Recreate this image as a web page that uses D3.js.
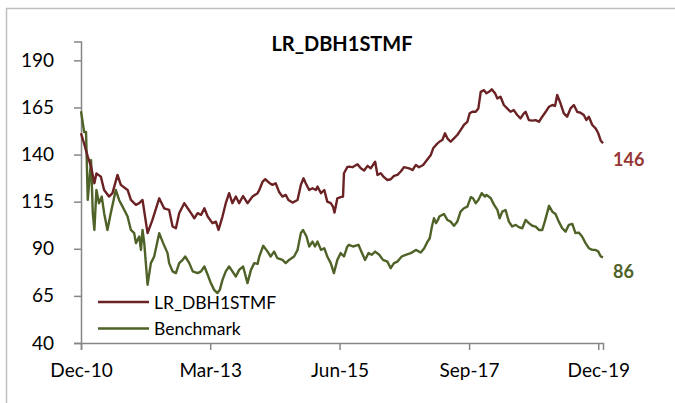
<!DOCTYPE html>
<html>
<head>
<meta charset="utf-8">
<script src="https://cdn.jsdelivr.net/npm/d3@7"></script>
<style>
  body { margin: 0; background: #fff; }
  svg text { font-family: Lato, "Open Sans", sans-serif; }
</style>
</head>
<body>
<div id="chart"></div>
<script>
// series
const fundDates = [
  '2010-12-01','2010-12-20','2011-01-13','2011-02-03','2011-02-24','2011-03-09','2011-04-06','2011-04-27',
  '2011-05-28','2011-06-19','2011-07-21','2011-08-11','2011-09-23','2011-10-14','2011-11-15','2011-12-06',
  '2011-12-27','2012-01-28','2012-02-28','2012-04-11','2012-05-12','2012-06-13','2012-07-05','2012-07-26',
  '2012-08-16','2012-09-17','2012-10-09','2012-10-30','2012-11-20','2012-12-11','2013-01-02','2013-01-23',
  '2013-02-13','2013-03-15','2013-04-06','2013-04-23','2013-05-18','2013-06-08','2013-06-29','2013-07-20',
  '2013-08-11','2013-09-01','2013-09-26','2013-10-24','2013-11-25','2013-12-27','2014-01-07','2014-01-28',
  '2014-02-14','2014-03-10','2014-04-01','2014-04-21','2014-05-12','2014-06-03','2014-06-24','2014-07-11',
  '2014-08-06','2014-09-07','2014-09-28','2014-10-15','2014-10-29','2014-11-20','2014-12-11','2015-01-02',
  '2015-01-12','2015-02-03','2015-02-24','2015-03-15','2015-04-06','2015-04-20','2015-04-30','2015-05-18',
  '2015-06-08','2015-06-23','2015-06-29','2015-07-20','2015-07-31','2015-08-22','2015-09-23','2015-10-14',
  '2015-11-04','2015-11-26','2015-12-16','2016-01-13','2016-01-28','2016-02-18','2016-03-09','2016-03-31',
  '2016-04-21','2016-05-12','2016-06-03','2016-06-24','2016-07-14','2016-08-16','2016-09-07','2016-09-28',
  '2016-10-18','2016-11-13','2016-12-11','2017-01-01','2017-01-16','2017-02-03','2017-02-24','2017-03-15',
  '2017-04-01','2017-04-16','2017-05-07','2017-05-28','2017-06-18','2017-07-09','2017-07-30','2017-08-21',
  '2017-09-05','2017-09-22','2017-10-13','2017-10-30','2017-11-14','2017-12-05','2017-12-20','2018-01-06',
  '2018-01-23','2018-02-13','2018-02-28','2018-03-20','2018-04-10','2018-05-01','2018-05-22','2018-06-12',
  '2018-07-04','2018-07-25','2018-08-15','2018-08-26','2018-09-16','2018-10-08','2018-10-29','2018-11-19',
  '2018-12-10','2019-01-01','2019-01-22','2019-02-12','2019-03-01','2019-03-15','2019-04-05','2019-04-26',
  '2019-05-17','2019-06-08','2019-06-29','2019-07-20','2019-08-10','2019-08-31','2019-09-16','2019-10-02',
  '2019-10-24','2019-11-14','2019-12-01','2019-12-16','2019-12-31'
]
const fundValues = [
  151.3,146,138.9,133.6,124.8,130,128.3,121.2,
  117.7,119.5,129.2,123.9,121.2,115.9,113.3,114.2,
  115.9,98.3,105.3,116.8,111.5,110.6,101.8,100.9,
  108.9,114.2,111.5,108.9,106.2,108.9,108,111.5,
  107.1,103.6,104.4,100,107.1,114.2,119.5,114.2,
  117.7,114.2,118,114.2,117.7,119.5,121.2,125.6,
  126.9,125.1,123.9,124.8,120.3,117.7,118.6,115.9,
  114.5,115.9,123.9,127.4,124.8,121.2,122.1,121.2,
  123,119.5,121.2,115,114.2,112.4,109.2,116.8,
  117.4,117.7,130.1,133.3,133.6,133.3,134.9,132.7,
  131.5,134,132.7,136.2,129.2,130.1,128,126.5,
  126.9,128.7,129.2,131,133.3,132.7,131.8,134.5,
  133.3,134.5,137.5,139.8,143.3,145.1,146.8,147.7,
  151.3,148.6,146.8,148.6,150.4,153,155.7,157.4,
  161.9,162.7,162.7,164.5,173.3,174.2,172.5,173.3,
  174.6,172.5,169.8,170.7,166.3,164.5,162.7,163.6,
  161,159.2,161.9,162.7,158.3,158,158.3,157.4,
  160.1,162.7,165.4,166.3,165.8,171.6,167.2,161.9,
  160.1,164.5,166.3,162.7,162.2,161,158.3,160.1,
  155.7,153.9,151.3,147.5,146
]

const benchDates = [
  '2010-12-01','2010-12-21','2011-01-02','2011-01-13','2011-02-03','2011-02-14','2011-02-24','2011-03-09',
  '2011-03-25','2011-04-12','2011-04-27','2011-05-18','2011-06-08','2011-07-10','2011-07-31','2011-08-22',
  '2011-09-23','2011-10-14','2011-11-04','2011-11-15','2011-12-06','2011-12-17','2011-12-27','2012-01-07',
  '2012-01-28','2012-02-18','2012-03-10','2012-04-11','2012-05-06','2012-06-03','2012-06-13','2012-07-05',
  '2012-07-26','2012-08-16','2012-09-07','2012-09-23','2012-10-19','2012-11-10','2012-12-11','2013-01-02',
  '2013-01-23','2013-02-13','2013-03-05','2013-03-26','2013-04-16','2013-05-01','2013-05-18','2013-06-08',
  '2013-06-29','2013-07-20','2013-08-11','2013-09-01','2013-09-26','2013-10-24','2013-11-15','2013-12-06',
  '2013-12-27','2014-01-07','2014-02-01','2014-03-01','2014-03-20','2014-04-11','2014-05-02','2014-06-03',
  '2014-06-24','2014-07-15','2014-08-16','2014-09-07','2014-09-28','2014-10-12','2014-11-03','2014-11-20',
  '2014-12-11','2014-12-27','2015-01-12','2015-02-03','2015-02-24','2015-03-15','2015-04-06','2015-04-26',
  '2015-05-18','2015-06-08','2015-06-29','2015-07-20','2015-07-31','2015-08-25','2015-09-29','2015-10-20',
  '2015-11-10','2015-12-02','2015-12-22','2016-01-13','2016-02-08','2016-03-03','2016-03-31','2016-04-21',
  '2016-05-12','2016-06-03','2016-06-30','2016-07-25','2016-08-27','2016-09-28','2016-10-29','2016-11-20',
  '2016-12-11','2016-12-25','2017-01-08','2017-01-21','2017-02-03','2017-02-15','2017-02-24','2017-03-25',
  '2017-04-16','2017-05-07','2017-05-28','2017-06-18','2017-07-09','2017-07-30','2017-08-21','2017-09-12',
  '2017-09-26','2017-10-13','2017-10-30','2017-11-20','2017-12-11','2017-12-21','2018-01-17','2018-02-07',
  '2018-02-28','2018-03-14','2018-03-31','2018-04-21','2018-05-12','2018-06-02','2018-06-24','2018-07-14',
  '2018-08-05','2018-08-26','2018-09-16','2018-10-08','2018-10-29','2018-11-19','2018-12-10','2018-12-26',
  '2019-01-22','2019-02-12','2019-03-04','2019-03-25','2019-04-16','2019-05-07','2019-05-28','2019-06-19',
  '2019-07-09','2019-07-30','2019-08-20','2019-09-11','2019-10-02','2019-10-24','2019-11-14','2019-12-01',
  '2019-12-16','2019-12-31'
]
const benchValues = [
  163,152,152,116,137,108.9,100,121.2,
  114.2,117.7,108.9,100,108.9,121.2,115.9,112.4,
  107.1,100,98.3,93,96.5,89.4,100,93,
  70.9,82.4,85.9,98.3,93,87.7,82.4,78,
  77.1,82.4,84.1,85.9,82.4,78,77.1,78,
  80.6,76.2,71.8,68.2,66.5,68.2,73.5,78,
  80.6,78,75.3,78.8,80.6,71.8,78.8,82.4,
  82,85.9,91.6,88.5,85.9,88.5,85,84.1,
  82.4,84.1,85.9,89.4,98.3,100,96.5,91.2,
  93.8,91.2,93.8,89.4,90.3,85.9,82.4,77.1,
  84.1,87.7,85.9,91.2,92.1,91.2,92.1,88,
  84.1,87.7,86.8,88.5,86.8,84.1,83.2,79.7,
  82.4,83.2,85.9,86.8,87.7,89.4,88,90.3,
  93.8,95.6,101.8,106.2,103.6,105.3,107.1,108.5,
  105.3,104.4,102.2,104.4,109.7,111.5,112.4,117.4,
  116.8,114.2,115.9,119.5,117.7,118.6,116.8,113.3,
  110.6,106.2,109.7,110.6,104.4,101.8,102.7,101.5,
  100.9,105.3,103.6,102.2,101.8,100,100,104.4,
  112.8,109.7,108.5,104.4,100.9,99.1,102.7,103.2,
  98.3,98.6,96.5,93,90.3,89.4,89.4,88.5,
  86,85.5
]

const seriesNames = ['LR_DBH1STMF', 'Benchmark']
const endLabels = ['146', '86']
const yTicks = [40, 65, 90, 115, 140, 165, 190]
const xTicks = ['2010-12-01', '2013-03-01', '2015-06-01', '2017-09-01', '2019-12-01']

const width = 675
const height = 403
const lineColors = ['#6B2224', '#4F6228']
const labelColors = ['#953735', '#4F6228']
const axisColor = '#868686'

const parse = d3.timeParse('%Y-%m-%d')

const series = [
  fundDates.map((d, i) => ({ date: parse(d), value: fundValues[i] })),
  benchDates.map((d, i) => ({ date: parse(d), value: benchValues[i] }))
]

const svg = d3.select('#chart').append('svg')
  .attr('width', width)
  .attr('height', height)

// outer chart frame, cut off at right and bottom
svg.append('rect')
  .attr('x', 6.5)
  .attr('y', 8.5)
  .attr('width', 720)
  .attr('height', 500)
  .attr('fill', 'none')
  .attr('stroke', '#BFBFBF')
  .attr('stroke-width', 1.5)

const x = d3.scaleTime()
  .domain([parse('2010-12-01'), parse('2019-12-31')])
  .range([81, 603])

const y = d3.scaleLinear()
  .domain([40, 200])
  .range([343, 41.5])

const xAxis = svg.append('g')
  .attr('transform', `translate(0, ${y(40)})`)
  .call(d3.axisBottom(x)
    .tickValues(xTicks.map(parse))
    .tickFormat(d3.timeFormat('%b-%y'))
    .tickSizeOuter(0)
    .tickSize(7)
    .tickPadding(14))

xAxis.select('.domain').attr('stroke', axisColor).attr('stroke-width', 1.5)
xAxis.selectAll('.tick line').attr('stroke', axisColor).attr('stroke-width', 1.5)
xAxis.selectAll('.tick text')
  .attr('fill', '#000')
  .style('font-size', '19px')

const yAxis = svg.append('g')
  .attr('transform', `translate(${x.range()[0]}, 0)`)
  .call(d3.axisLeft(y)
    .tickValues(yTicks)
    .tickSizeOuter(0)
    .tickSize(7)
    .tickPadding(20))

yAxis.select('.domain').attr('stroke', axisColor).attr('stroke-width', 1.5)
yAxis.selectAll('.tick line').attr('stroke', axisColor).attr('stroke-width', 1.5)
yAxis.selectAll('.tick text')
  .attr('fill', '#000')
  .style('font-size', '19px')

const line = d3.line()
  .x(d => x(d.date))
  .y(d => y(d.value))

// benchmark first so the fund line sits on top
series.slice().reverse().forEach((s, j) => {
  const i = series.length - 1 - j
  svg.append('path')
    .datum(s)
    .attr('fill', 'none')
    .attr('stroke', lineColors[i])
    .attr('stroke-width', 2.4)
    .attr('stroke-linejoin', 'round')
    .attr('d', line)
})

// end value labels
series.forEach((s, i) => {
  const last = s[s.length - 1]
  svg.append('text')
    .attr('x', x(last.date) + 10)
    .attr('y', y(last.value) + (i === 0 ? 23 : 21))
    .attr('fill', labelColors[i])
    .style('font-size', '18px')
    .style('font-weight', 'bold')
    .text(endLabels[i])
})

// title
svg.append('text')
  .attr('x', 342)
  .attr('y', 51)
  .attr('text-anchor', 'middle')
  .style('font-size', '20px')
  .style('font-weight', 'bold')
  .text('LR_DBH1STMF')

// legend
const legend = svg.append('g')
  .attr('transform', 'translate(98, 302)')

seriesNames.forEach((name, i) => {
  legend.append('line')
    .attr('x1', 0)
    .attr('x2', 51)
    .attr('y1', i * 26.5)
    .attr('y2', i * 26.5)
    .attr('stroke', lineColors[i])
    .attr('stroke-width', 2.4)
  legend.append('text')
    .attr('x', 56)
    .attr('y', i * 26.5 + 6.5)
    .style('font-size', '17.5px')
    .text(name)
})
</script>
</body>
</html>
